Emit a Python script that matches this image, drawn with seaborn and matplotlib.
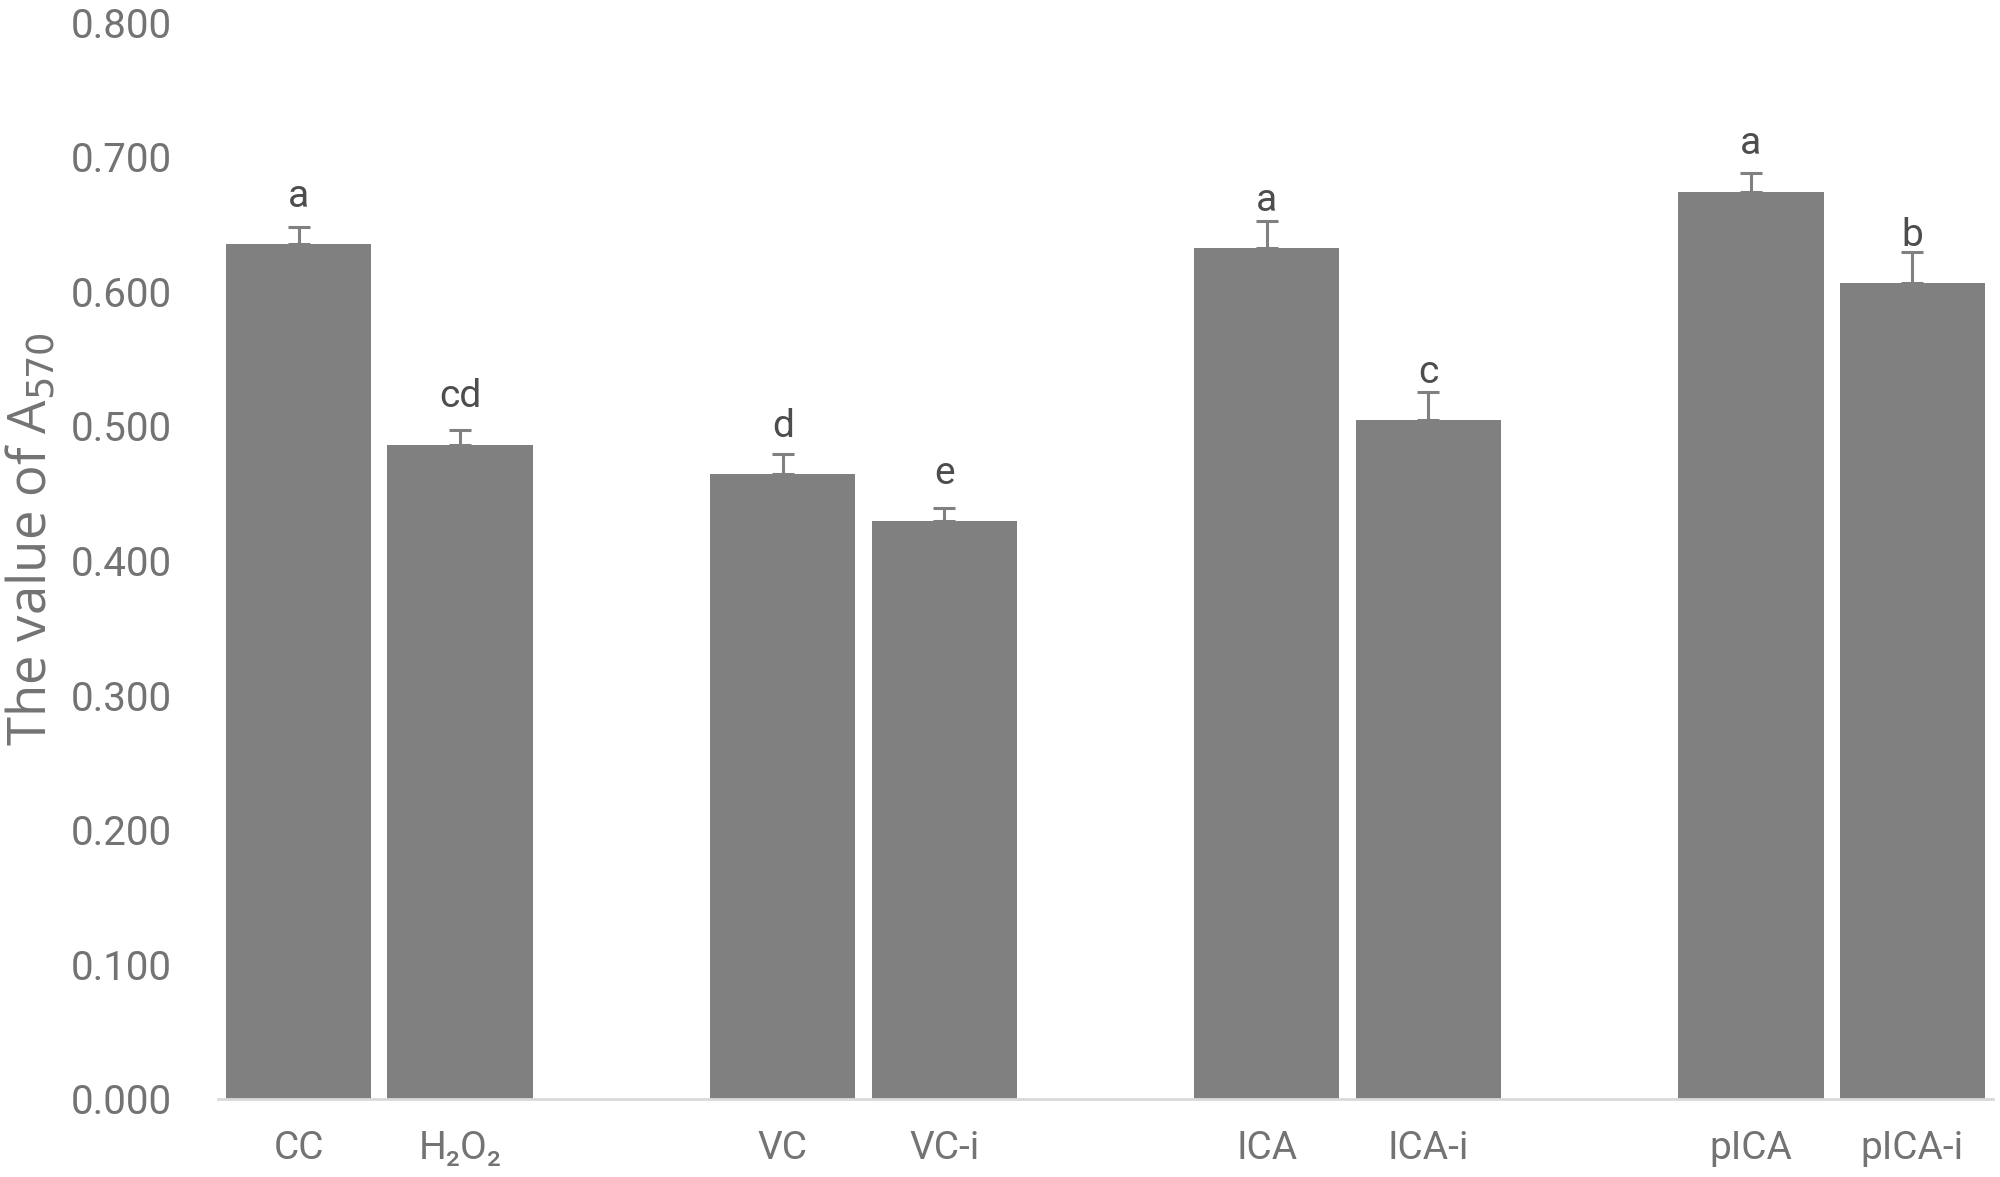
import matplotlib
matplotlib.use("Agg")
import matplotlib.pyplot as plt
import numpy as np
import pandas as pd
import seaborn as sns

# Data (A570 absorbance, mean + SD)
groups = ["CC", "H₂O₂", "VC", "VC-i", "ICA", "ICA-i", "pICA", "pICA-i"]
values = [0.635, 0.486, 0.464, 0.429, 0.632, 0.504, 0.674, 0.606]
errors = [0.013, 0.011, 0.015, 0.010, 0.020, 0.021, 0.014, 0.023]
letters = ["a", "cd", "d", "e", "a", "c", "a", "b"]

# empty slots between the pairs, like the Excel original
order = ["CC", "H₂O₂", " ", "VC", "VC-i", "  ", "ICA", "ICA-i", "   ", "pICA", "pICA-i"]

df = pd.DataFrame({"group": groups, "value": values})

sns.set_style("white")
plt.rcParams["font.family"] = ["Roboto", "Noto Sans CJK SC", "DejaVu Sans"]

bar_color = "#808080"
text_color = "#737373"

fig = plt.figure(figsize=(20, 11.77), dpi=100)
ax = fig.add_axes([0.109, 0.0663, 0.8875, 0.915])

sns.barplot(data=df, x="group", y="value", order=order, color=bar_color,
            saturation=1, width=0.9, errorbar=None, linewidth=0, ax=ax)

xpos = [order.index(g) for g in groups]
ax.errorbar(xpos, values, yerr=[np.zeros(len(values)), errors], fmt="none",
            ecolor=bar_color, elinewidth=2.2, capsize=8, capthick=2.2)

# significance letters sit a fixed distance above the bar top
for x, v, lab in zip(xpos, values, letters):
    ax.annotate(lab, (x, v), xytext=(0, 27), textcoords="offset points",
                ha="center", va="baseline", fontsize=28, color="#4d4d4d")

ax.set_xlim(-0.5, len(order) - 0.5)
ax.set_ylim(0, 0.8)
ax.set_yticks(np.arange(0, 0.81, 0.1))
ax.set_yticklabels([f"{t:.3f}" for t in np.arange(0, 0.81, 0.1)])
ax.tick_params(axis="both", length=0, labelsize=28, labelcolor=text_color)
ax.tick_params(axis="y", labelsize=29, pad=33)
ax.tick_params(axis="x", pad=22)

ax.set_xlabel("")
ax.set_ylabel("The value of A$_{570}$", fontsize=38, color=text_color,
              family=["Open Sans", "DejaVu Sans"])
ax.yaxis.set_label_coords(-0.089, 0.52)

sns.despine(ax=ax, left=True)
ax.spines["bottom"].set_color("#d9d9d9")
ax.spines["bottom"].set_linewidth(2)

fig.savefig("out.png", dpi=100)
